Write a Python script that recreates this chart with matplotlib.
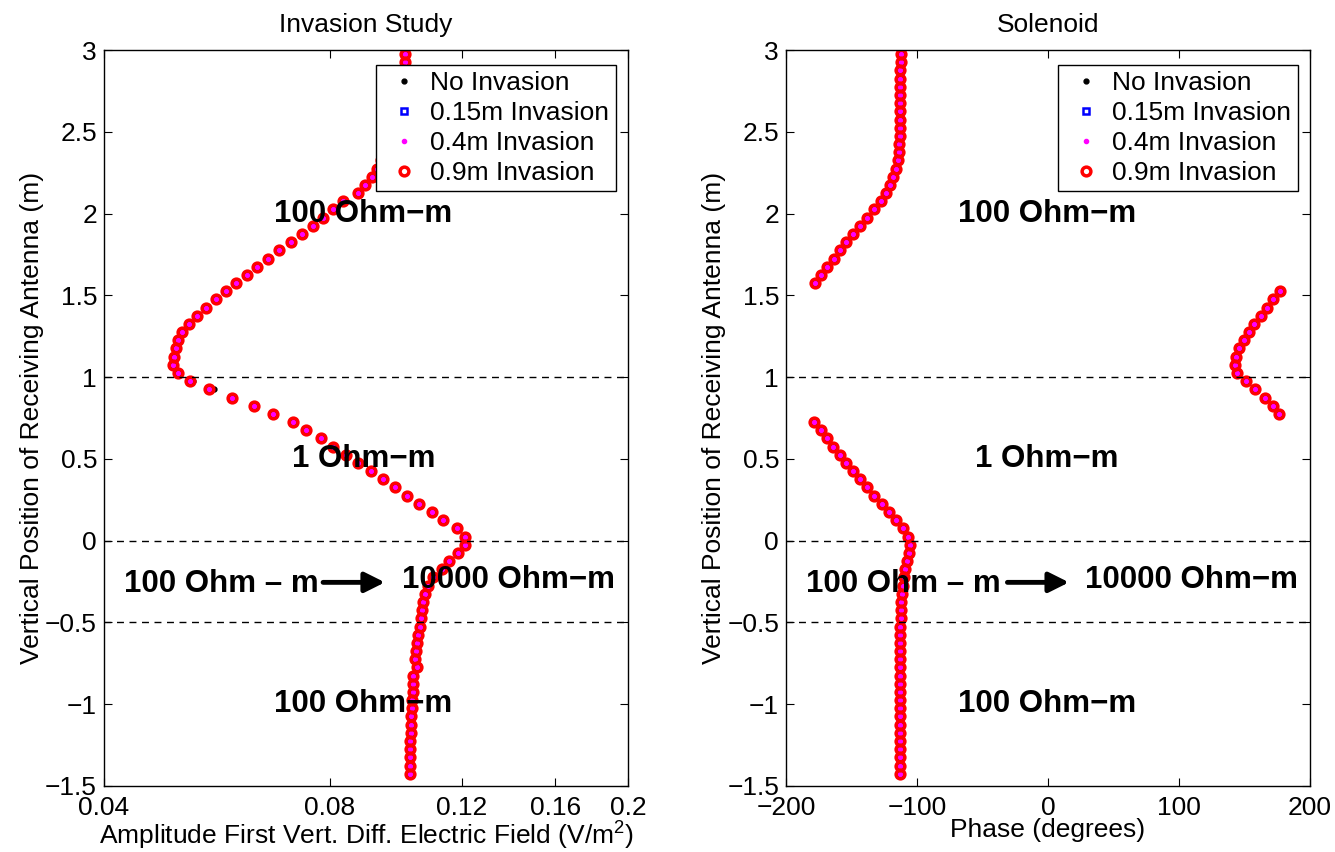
import matplotlib
matplotlib.use("Agg")
import matplotlib.pyplot as plt
from matplotlib.ticker import NullLocator
import numpy as np

plt.rcParams.update({
    "font.family": ["Liberation Sans", "DejaVu Sans"],
    "mathtext.fontset": "custom",
    "mathtext.rm": "Liberation Sans",
    "font.size": 19,
    "axes.linewidth": 1.0,
})

# receiver depths (m), top to bottom, 0.05 m apart
depth = [
    2.975, 2.925, 2.875, 2.825, 2.775, 2.725, 2.675, 2.625, 2.575, 2.525,
    2.475, 2.425, 2.375, 2.325, 2.275, 2.225, 2.175, 2.125, 2.075, 2.025,
    1.975, 1.925, 1.875, 1.825, 1.775, 1.725, 1.675, 1.625, 1.575, 1.525,
    1.475, 1.425, 1.375, 1.325, 1.275, 1.225, 1.175, 1.125, 1.075, 1.025,
    0.975, 0.925, 0.875, 0.825, 0.775, 0.725, 0.675, 0.625, 0.575, 0.525,
    0.475, 0.425, 0.375, 0.325, 0.275, 0.225, 0.175, 0.125, 0.075, 0.025,
    -0.025, -0.075, -0.125, -0.175, -0.225, -0.275, -0.325, -0.375, -0.425, -0.475,
    -0.525, -0.575, -0.625, -0.675, -0.725, -0.775, -0.825, -0.875, -0.925, -0.975,
    -1.025, -1.075, -1.125, -1.175, -1.225, -1.275, -1.325, -1.375, -1.425,
]

# amplitude of first vertical difference of E field (V/m^2), invaded cases
amp_invaded = [
    0.1008, 0.1008, 0.1005, 0.1002, 0.0999, 0.0993, 0.0990, 0.0984, 0.0978, 0.0972,
    0.0963, 0.0954, 0.0945, 0.0937, 0.0925, 0.0911, 0.0892, 0.0873, 0.0833, 0.0808,
    0.0784, 0.0760, 0.0735, 0.0710, 0.0685, 0.0662, 0.0640, 0.0621, 0.0600, 0.0582,
    0.0564, 0.0547, 0.0532, 0.0519, 0.0508, 0.0502, 0.0499, 0.0496, 0.0494, 0.0502,
    0.0521, 0.0552, 0.0593, 0.0634, 0.0672, 0.0715, 0.0744, 0.0779, 0.0808, 0.0841,
    0.0873, 0.0908, 0.0942, 0.0978, 0.1014, 0.1053, 0.1095, 0.1133, 0.1183, 0.1212,
    0.1212, 0.1186, 0.1154, 0.1130, 0.1099, 0.1082, 0.1072, 0.1066, 0.1062, 0.1059,
    0.1056, 0.1049, 0.1046, 0.1043, 0.1040, 0.1046, 0.1033, 0.1033, 0.1033, 0.1030,
    0.1030, 0.1027, 0.1027, 0.1027, 0.1024, 0.1024, 0.1024, 0.1024, 0.1024,
]
# no-invasion case differs only just below the 1 m boundary
amp_none = list(amp_invaded)
amp_none[40] = 0.0525
amp_none[41] = 0.0560

# phase (degrees)
phase_invaded = [
    -112.6, -112.6, -112.7, -112.7, -112.8, -112.9, -112.9, -113.0, -113.1, -113.2,
    -113.3, -113.5, -114.1, -114.9, -116.3, -118.5, -120.4, -123.9, -127.7, -133.0,
    -138.4, -143.2, -148.6, -154.0, -158.8, -163.3, -168.7, -173.2, -178.0, 176.9,
    171.6, 167.1, 162.2, 157.4, 153.4, 149.4, 145.6, 143.5, 142.7, 144.3,
    151.0, 158.2, 165.4, 171.6, 176.2, -178.6, -173.0, -169.0, -163.9, -159.1,
    -154.2, -149.2, -143.5, -138.2, -132.8, -126.9, -121.6, -116.2, -110.9, -106.8,
    -105.5, -106.0, -107.7, -109.0, -110.3, -110.9, -111.4, -111.9, -112.2, -112.5,
    -112.7, -112.8, -112.9, -113.0, -113.0, -113.1, -113.1, -113.2, -113.2, -113.2,
    -113.3, -113.3, -113.3, -113.3, -113.3, -113.3, -113.3, -113.3, -113.3,
]
phase_none = list(phase_invaded)

boundaries = [1.0, 0.0, -0.5]
ytick_vals = [-1.5, -1, -0.5, 0, 0.5, 1, 1.5, 2, 2.5, 3]
ytick_labels = ["\u22121.5", "\u22121", "\u22120.5", "0", "0.5", "1", "1.5", "2", "2.5", "3"]

amp_ticks = [0.04, 0.08, 0.12, 0.16, 0.2]
amp_tick_labels = ["0.04", "0.08", "0.12", "0.16", "0.2"]
phase_ticks = [-200, -100, 0, 100, 200]
phase_tick_labels = ["\u2212200", "\u2212100", "0", "100", "200"]

fig = plt.figure(figsize=(13.35, 8.52), dpi=100)
ax1 = fig.add_axes([0.0779, 0.0775, 0.3925, 0.8638])
ax2 = fig.add_axes([0.5888, 0.0775, 0.3925, 0.8638])


def draw_series(ax, x_none, x_inv):
    ax.plot(x_none, depth, ".", color="k", ms=7, label="No Invasion")
    ax.plot(x_inv, depth, "s", mec="b", mfc="none", ms=5, mew=1.8, label="0.15m Invasion")
    ax.plot(x_inv, depth, ".", color="magenta", ms=6, label="0.4m Invasion")
    ax.plot(x_inv, depth, "o", mec="r", mfc="none", ms=6.3, mew=2.5, label="0.9m Invasion")
    for b in boundaries:
        ax.axhline(b, color="k", ls=(0, (5, 4)), lw=1.0)
    ax.set_ylim(-1.5, 3)
    ax.set_yticks(ytick_vals, ytick_labels)
    ax.tick_params(direction="in", length=6, width=0.8, top=True, right=True)
    ax.tick_params(axis="y", pad=5)
    ax.tick_params(axis="x", pad=7)
    ax.set_ylabel("Vertical Position of Receiving Antenna (m)", labelpad=1)
    ax.legend(loc="upper right", bbox_to_anchor=(0.977, 0.98), borderaxespad=0,
              fancybox=False, edgecolor="k", framealpha=1, handlelength=1.6,
              handletextpad=0.2, borderpad=0.25, labelspacing=0.22)


def label_layers(ax, left_x, one_x, arrow_text_x, arrow_from, arrow_to, right_x):
    kw = dict(fontsize=22.5, fontweight="bold", ha="left", va="center")
    ax.text(left_x, 2.0, "100 Ohm\u2212m", **kw)
    ax.text(one_x, 0.5, "1 Ohm\u2212m", **kw)
    ax.text(left_x, -1.0, "100 Ohm\u2212m", **kw)
    ax.text(arrow_text_x, -0.265, "100 Ohm \u2013 m", **kw)
    ax.text(right_x, -0.24, "10000 Ohm\u2212m", **kw)
    ax.annotate("", xy=(arrow_to, -0.255), xytext=(arrow_from, -0.255),
                arrowprops=dict(arrowstyle="-|>", lw=3.5, color="k",
                                mutation_scale=30, shrinkA=0, shrinkB=0))


# left panel: amplitude
draw_series(ax1, amp_none, amp_invaded)
ax1.set_xscale("log")
ax1.set_xlim(0.04, 0.2)
ax1.set_xticks(amp_ticks, amp_tick_labels)
ax1.xaxis.set_minor_locator(NullLocator())
ax1.set_xlabel("Amplitude First Vert. Diff. Electric Field (V/m$^2$)", labelpad=-1)
ax1.set_title("Invasion Study", fontsize=19, pad=13)
label_layers(ax1, 0.0674, 0.0712, 0.0425, 0.0784, 0.0948, 0.0999)

# right panel: phase
draw_series(ax2, phase_none, phase_invaded)
ax2.set_xlim(-200, 200)
ax2.set_xticks(phase_ticks, phase_tick_labels)
ax2.set_xlabel("Phase (degrees)", labelpad=-1)
ax2.set_title("Solenoid", fontsize=19, pad=13)
label_layers(ax2, -68.7, -55.7, -184.7, -31, 16, 28.2)

fig.savefig("out.png", dpi=100)
